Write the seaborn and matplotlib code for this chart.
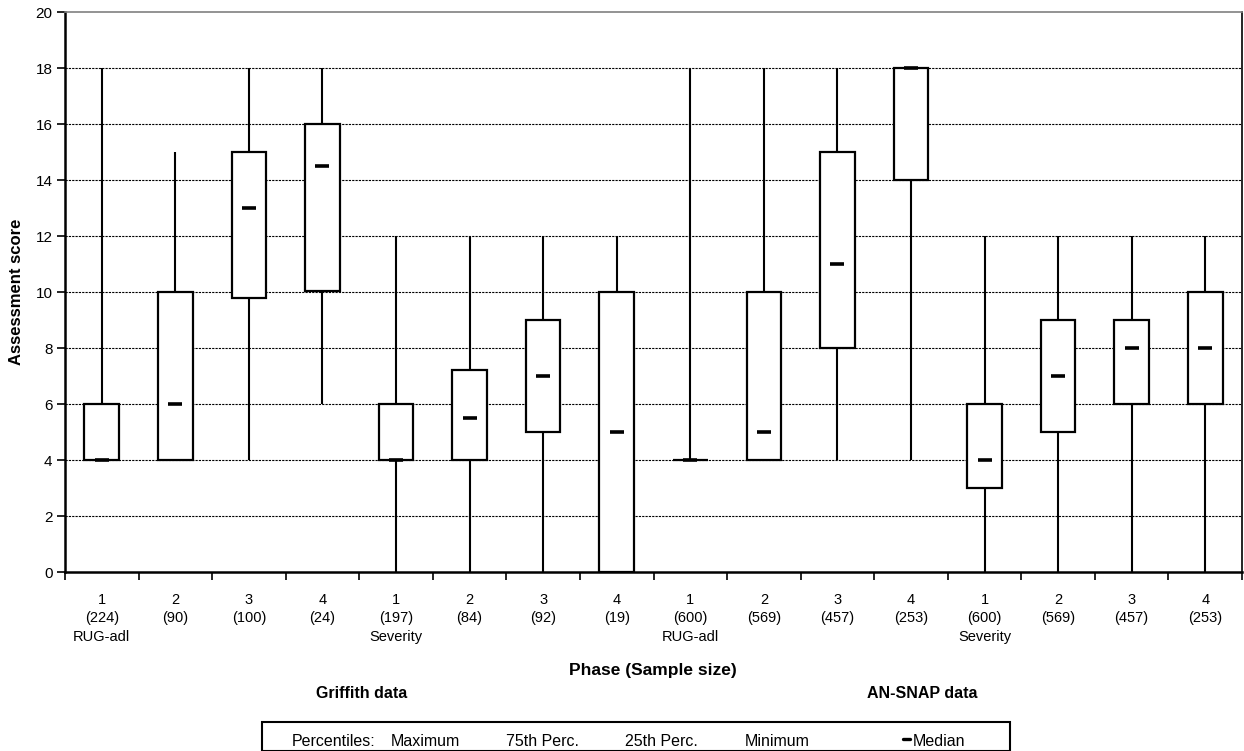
import numpy as np
import pandas as pd
import matplotlib.pyplot as plt
import seaborn as sns
from matplotlib.patches import Rectangle
from matplotlib.lines import Line2D

# five-number summaries (Griffith 8 groups, AN-SNAP 8 groups)
phases = ["1", "2", "3", "4", "1", "2", "3", "4", "1", "2", "3", "4", "1", "2", "3", "4"]
sizes = [224, 90, 100, 24, 197, 84, 92, 19, 600, 569, 457, 253, 600, 569, 457, 253]
measures = ["RUG-adl", "", "", "", "Severity", "", "", "",
            "RUG-adl", "", "", "", "Severity", "", "", ""]
mins = [4, 4, 4, 6, 0, 0, 0, 0, 4, 4, 4, 4, 0, 0, 0, 0]
q1s = [4, 4, 9.8, 10.05, 4, 4, 5, 0, 4, 4, 8, 14, 3, 5, 6, 6]
medians = [4, 6, 13, 14.5, 4, 5.5, 7, 5, 4, 5, 11, 18, 4, 7, 8, 8]
q3s = [6, 10, 15, 16, 6, 7.2, 9, 10, 4, 10, 15, 18, 6, 9, 9, 10]
maxs = [18, 15, 18, 18, 12, 12, 12, 12, 18, 18, 18, 18, 12, 12, 12, 12]


def create_graph():
    groups = [f"g{i}" for i in range(len(phases))]
    rows = []
    for g, a, b, c, d, e in zip(groups, mins, q1s, medians, q3s, maxs):
        for v in (a, b, c, d, e):
            rows.append({"group": g, "score": v})
    df = pd.DataFrame(rows)

    sns.set_style("white")
    plt.rcParams["font.family"] = ["Liberation Sans", "DejaVu Sans"]
    for k in ["text.color", "axes.labelcolor", "xtick.color", "ytick.color"]:
        plt.rcParams[k] = "black"

    fig = plt.figure(figsize=(12.44, 7.51), dpi=100)
    W, H = 1244, 751
    left, right, top, bottom = 65, 1242, 12, 572
    ax = fig.add_axes([left / W, 1 - bottom / H, (right - left) / W, (bottom - top) / H])

    sns.boxplot(data=df, x="group", y="score", order=groups, whis=(0, 100),
                width=0.47, color="white", linecolor="black", linewidth=1.6,
                showcaps=False, fliersize=0, medianprops={"visible": False},
                boxprops={"facecolor": "white", "zorder": 3},
                whiskerprops={"linewidth": 1.5, "zorder": 2}, ax=ax)
    sns.scatterplot(x=np.arange(len(groups)), y=medians, marker="_", s=90,
                    color="black", linewidth=2.6, zorder=5, ax=ax, legend=False)

    ax.set_xlim(-0.5, len(groups) - 0.5)
    ax.set_ylim(0, 20)
    ax.set_yticks(range(0, 21, 2))
    ax.set_yticklabels([str(v) for v in range(0, 21, 2)], fontsize=11)
    for y in range(2, 19, 2):
        ax.axhline(y, color="black", linewidth=0.8, linestyle=(0, (2, 1)), zorder=0)

    labels = [f"{p}\n({n})\n{m}" for p, n, m in zip(phases, sizes, measures)]
    ax.set_xticks(range(len(groups)))
    ax.set_xticklabels(labels, fontsize=10.5, linespacing=1.4, va="top")
    ax.tick_params(axis="x", which="major", length=0, pad=15)
    ax.set_xticks(np.arange(-0.5, len(groups), 1), minor=True)
    ax.tick_params(axis="x", which="minor", length=6, width=1.2, direction="out", bottom=True)
    ax.tick_params(axis="y", length=6, width=1.2, direction="out", left=True, pad=3)
    ax.set_xlabel("")
    ax.set_ylabel("Assessment score", fontsize=12, fontweight="bold")
    ax.yaxis.set_label_coords(-41 / (right - left), 0.5)

    for s in ["left", "bottom"]:
        ax.spines[s].set_color("black")
        ax.spines[s].set_linewidth(1.8)
    ax.spines["right"].set_color("black")
    ax.spines["right"].set_linewidth(1.2)
    ax.spines["top"].set_color("#808080")
    ax.spines["top"].set_linewidth(1.2)

    fig.text(653 / W, 1 - 670 / H, "Phase (Sample size)", ha="center", va="center",
             fontsize=12.5, fontweight="bold")
    fig.text(362 / W, 1 - 693 / H, "Griffith data", ha="center", va="center",
             fontsize=11.5, fontweight="bold")
    fig.text(922 / W, 1 - 693 / H, "AN-SNAP data", ha="center", va="center",
             fontsize=11.5, fontweight="bold")

    # key box at the bottom
    fig.patches.append(Rectangle((262 / W, 1 - 751 / H), (1010 - 262) / W, 29 / H,
                                 transform=fig.transFigure, fill=False,
                                 edgecolor="black", linewidth=1.5))
    key_y = 1 - 742 / H
    for x, t in [(292, "Percentiles:"), (391, "Maximum"), (506, "75th Perc."),
                 (625, "25th Perc."), (745, "Minimum"), (913, "Median")]:
        fig.text(x / W, key_y, t, ha="left", va="center", fontsize=11.5)
    fig.lines.append(Line2D([903 / W, 910 / W], [1 - 739 / H, 1 - 739 / H],
                            transform=fig.transFigure, color="black", linewidth=2.4))

    fig.savefig("out.png", dpi=100)


create_graph()
